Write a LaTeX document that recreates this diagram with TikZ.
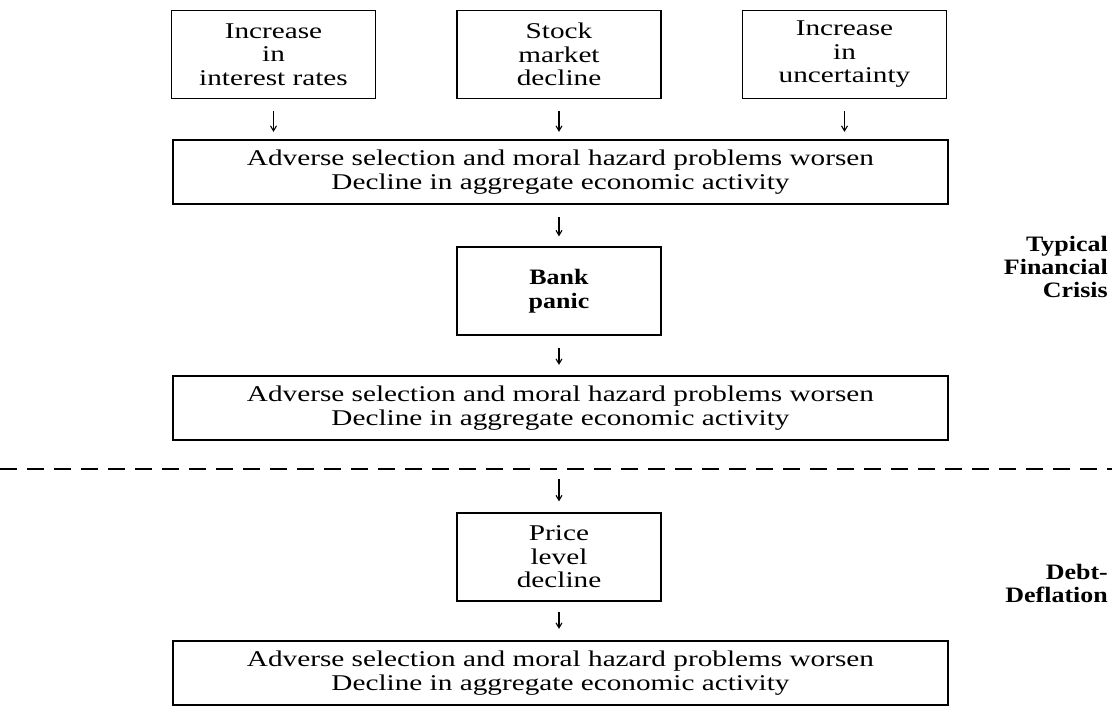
\documentclass[tikz,border=0pt]{standalone}
\usepackage{fontspec}
\setmainfont{Liberation Serif}[FakeStretch=1.3]
\newfontfamily\lblfont{Liberation Serif}[FakeStretch=1.18]
\usetikzlibrary{arrows.meta}
\tikzset{
  txt/.style={font=\fontsize{22.5}{23.5}\selectfont, align=center, inner sep=0pt},
  smallbox/.style={txt, draw, line width=1.3pt, minimum width=204pt, minimum height=88pt},
  bigbox/.style={txt, draw, line width=2.2pt, minimum width=775pt, minimum height=64pt},
  boldtxt/.style={font=\lblfont\bfseries\fontsize{22}{23.5}\selectfont},
  flow/.style={line width=1.1pt, -{Straight Barb[length=5pt,width=6pt]}},
  side/.style={font=\lblfont\bfseries\fontsize{22}{23}\selectfont, align=right, anchor=east, inner sep=0pt},
  sep/.style={line width=1.2pt, dash pattern=on 17pt off 10pt},
}
\begin{document}
\begin{tikzpicture}[x=1pt,y=-1pt]
\useasboundingbox (0,0) rectangle (1112,711);
% top row
\node[smallbox] (t1) at (273.5,54.5) {Increase\\in\\interest rates};
\node[smallbox] (t2) at (559,54.5) {Stock\\market\\decline};
\node[smallbox] (t3) at (844.5,54.5) {Increase\\in\\uncertainty};
% first big box
\node[bigbox] (b1) at (560.5,172) {Adverse selection and moral hazard problems worsen\\Decline in aggregate economic activity};
\node[smallbox, boldtxt] (bank) at (559,291) {Bank\\panic};
\node[bigbox] (b2) at (560.5,408) {Adverse selection and moral hazard problems worsen\\Decline in aggregate economic activity};
% separator
\coordinate (dl) at (0,469);
\coordinate (dr) at (1112,469);
\draw[sep] (dl) -- (dr);
\node[smallbox] (price) at (559,557) {Price\\level\\decline};
\node[bigbox] (b3) at (560.5,673) {Adverse selection and moral hazard problems worsen\\Decline in aggregate economic activity};
% side labels
\node[side] (tfc) at (1108,267) {Typical\\Financial\\Crisis};
\node[side] (dd) at (1108,583) {Debt-\\Deflation};
% arrows
\draw[flow, shorten <=12pt, shorten >=7pt] (t1.south) -- (t1.south |- b1.north);
\draw[flow, shorten <=12pt, shorten >=7pt] (t2.south) -- (t2.south |- b1.north);
\draw[flow, shorten <=12pt, shorten >=7pt] (t3.south) -- (t3.south |- b1.north);
\draw[flow, shorten <=12pt, shorten >=10pt] (bank.north |- b1.south) -- (bank.north);
\draw[flow, shorten <=12pt, shorten >=10pt] (bank.south) -- (bank.south |- b2.north);
\draw[flow, shorten <=38pt, shorten >=11pt] (price.north |- b2.south) -- (price.north);
\draw[flow, shorten <=10pt, shorten >=11pt] (price.south) -- (price.south |- b3.north);
\end{tikzpicture}
\end{document}
